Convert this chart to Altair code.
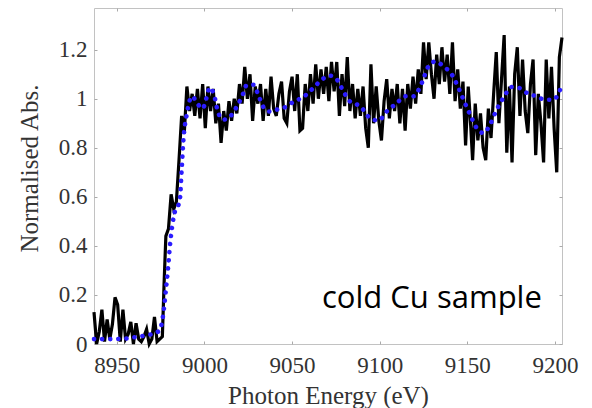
import altair as alt
import pandas as pd

# ---- data ----
energy = [
    8937, 8938.5, 8940, 8941.5, 8943, 8944.5, 8946, 8947.5, 8949, 8950.5,
    8952, 8953.5, 8955, 8956.5, 8958, 8959.5, 8961, 8962.5, 8964, 8965.5,
    8967, 8968.5, 8970, 8971.5, 8973, 8974.5, 8976,
    8977, 8978, 8979.5, 8981, 8982.5, 8984, 8985.5, 8987, 8988.5, 8990,
    8991.5, 8993, 8994.5, 8996, 8997.5, 8999, 9000.5, 9002, 9003.5, 9005,
    9006.5, 9008, 9009.5, 9011, 9012.5, 9014, 9015.5, 9017, 9018.5, 9020,
    9021.5, 9023, 9024.5, 9026, 9027.5, 9029, 9030.5, 9032, 9033.5, 9035,
    9036.5, 9038, 9039.5, 9041, 9042.5, 9044, 9045.5, 9047, 9048.5, 9050,
    9051.5, 9053, 9054.5,
    9056, 9057.5, 9059, 9060.5, 9062, 9063.5, 9065, 9066.5, 9068, 9069.5,
    9071, 9072.5, 9074, 9075.5, 9077, 9078.5, 9080, 9081.5, 9083, 9084.5,
    9086, 9087.5, 9089, 9090.5, 9092, 9093.5, 9095, 9096.5, 9098, 9099.5,
    9101, 9102.5, 9104, 9105.5, 9107, 9108.5, 9110, 9111.5, 9113, 9114.5,
    9116, 9117.5, 9119, 9120.5, 9122, 9123.5, 9125, 9126.5, 9128, 9129.5,
    9131, 9132.5, 9134, 9135.5, 9137, 9138.5, 9140, 9141.5, 9143, 9144.5,
    9146, 9147.5, 9149, 9150.5, 9152, 9153, 9154.5, 9156, 9157.5, 9159,
    9160.5, 9162, 9163.5, 9165, 9166.5, 9168, 9169.5, 9171, 9172.5, 9174,
    9175.5, 9177, 9178.5, 9180, 9181.5, 9183, 9184.5, 9186, 9187.5, 9189,
    9190.5, 9192, 9193.5, 9195, 9196.5, 9198, 9199.5, 9201, 9202.5, 9204,
]
absorbance = [
    0.13, 0.00, 0.05, 0.14, 0.01, 0.10, 0.02, 0.08, 0.19, 0.16,
    0.01, 0.14, 0.02, 0.04, 0.09, 0.00, 0.085, 0.02, 0.01, 0.03,
    0.06, 0.00, 0.02, 0.11, 0.01, 0.02, 0.03,
    0.25, 0.44, 0.47, 0.61, 0.55, 0.58, 0.75, 0.93, 0.86, 1.05,
    0.95, 1.02, 0.93, 1.04, 0.92, 1.06, 0.88, 1.05, 0.95, 1.04,
    0.90, 0.98, 0.82, 0.95, 0.87, 0.99, 0.91, 1.00, 0.94, 1.06,
    0.98, 1.13, 1.00, 1.10, 0.91, 1.05, 0.98, 1.06, 0.91, 1.04,
    0.93, 1.09, 0.96, 0.93, 1.02, 1.07, 0.92, 0.90, 1.03, 1.09,
    0.95, 1.10, 0.87,
    0.88, 1.06, 0.95, 1.10, 0.98, 1.14, 1.00, 1.12, 1.02, 1.13,
    0.99, 1.15, 1.03, 1.15, 0.93, 1.10, 0.97, 1.17, 0.95, 1.06,
    0.92, 1.04, 0.93, 1.05, 0.88, 0.80, 1.14, 0.90, 1.05, 0.91,
    0.83, 0.99, 1.08, 0.92, 1.04, 0.95, 1.06, 0.90, 1.04, 0.87,
    1.06, 0.96, 1.09, 0.98, 1.12, 1.02, 1.23, 1.08, 1.23, 1.10,
    1.00, 1.18, 1.06, 1.21, 1.07, 1.18, 1.02, 1.23, 0.99, 1.12,
    0.96, 1.07, 0.81, 1.05, 0.88, 0.75, 0.98, 0.83, 0.94, 0.80,
    0.75, 0.96, 0.84, 1.02, 1.19, 0.90, 1.08, 1.26, 0.78, 1.05,
    0.74, 1.10, 1.21, 0.93, 1.16, 0.95, 0.86, 1.06, 1.16, 0.77,
    1.02, 0.90, 0.74, 1.16, 0.92, 1.13, 0.88, 0.70, 1.17, 1.25,
]
fit_energy = [
    8937, 8945, 8955, 8962, 8968, 8972, 8974.5, 8976, 8977, 8978,
    8979, 8980.6, 8982.5, 8986, 8987, 8988, 8990, 8993, 8996, 8999,
    9001, 9003, 9005.3, 9008, 9011, 9015, 9018.6, 9021.5, 9024.3, 9028,
    9031, 9034, 9037, 9041, 9047, 9051, 9056, 9062, 9067, 9071.7,
    9075.6, 9079.3, 9083, 9089, 9094.5, 9099.3, 9104, 9109.7, 9114.5, 9119.2,
    9124, 9127.8, 9131.7, 9136.4, 9141.2, 9145, 9147.8, 9151.6, 9155.4, 9159.1,
    9162.9, 9166.7, 9170.5, 9175.3, 9180, 9184.8, 9189.5, 9194.2, 9199, 9203.7,
]
fit_absorbance = [
    0.02, 0.02, 0.022, 0.03, 0.037, 0.045, 0.057, 0.098, 0.15, 0.22,
    0.29, 0.42, 0.52, 0.59, 0.71, 0.83, 0.94, 1.01, 0.98, 0.96,
    1.00, 1.045, 1.02, 0.94, 0.915, 0.93, 0.97, 1.01, 1.057, 1.057,
    1.01, 0.962, 0.948, 0.955, 0.969, 0.989, 1.005, 1.043, 1.078, 1.094,
    1.078, 1.03, 0.989, 0.969, 0.921, 0.911, 0.948, 0.982, 1.01, 1.01,
    1.064, 1.132, 1.152, 1.132, 1.098, 1.043, 0.996, 0.935, 0.88, 0.86,
    0.894, 0.955, 1.003, 1.048, 1.043, 1.02, 1.01, 0.996, 0.996, 1.05,
]
x_ticks = [8950, 9000, 9050, 9100, 9150, 9200]
y_ticks = [0, 0.2, 0.4, 0.6, 0.8, 1, 1.2]
x_domain = [8937, 9204]
y_domain = [0, 1.37]
annotation = ["cold Cu sample"]

meas = pd.DataFrame({"E": energy, "A": absorbance})
fit = pd.DataFrame({"E": fit_energy, "A": fit_absorbance})
note = pd.DataFrame({"label": annotation})

SERIF = "Liberation Serif"
GRAY = "#c2c2c2"
TEXT = "#333333"

xscale = alt.Scale(domain=x_domain, nice=False, zero=False)
yscale = alt.Scale(domain=y_domain, nice=False, zero=False)

common = dict(tickSize=3, tickColor="#aaaaaa", tickWidth=1, domain=False, grid=False, offset=-3)

x_bottom = alt.Axis(orient="bottom", values=x_ticks, labelExpr="'' + datum.value",
                    labelFont=SERIF, labelFontSize=23, labelColor=TEXT, labelPadding=10,
                    title="Photon Energy (eV)", titleFont=SERIF, titleFontSize=25,
                    titleFontWeight="normal", titleColor=TEXT, titleY=42,
                    titleBaseline="top", **common)
y_left = alt.Axis(orient="left", values=y_ticks, labelExpr="'' + datum.value",
                  labelFont=SERIF, labelFontSize=23, labelColor=TEXT, labelPadding=7,
                  title="Normalised Abs.", titleFont=SERIF, titleFontSize=25,
                  titleFontWeight="normal", titleColor=TEXT, titleX=-80, titleY=160,
                  titleBaseline="top", titleAlign="center", **common)
x_top = alt.Axis(orient="top", values=x_ticks, labels=False, title=None, **common)
y_right = alt.Axis(orient="right", values=y_ticks, labels=False, title=None, **common)

measured = alt.Chart(meas).mark_line(color="black", strokeWidth=3.2, strokeJoin="miter").encode(
    x=alt.X("E:Q", scale=xscale, axis=x_bottom),
    y=alt.Y("A:Q", scale=yscale, axis=y_left),
)

fitted = alt.Chart(fit).mark_line(
    color="#2b1cff", strokeWidth=4.6, strokeDash=[0.1, 8], strokeCap="round",
    interpolate="monotone",
).encode(
    x=alt.X("E:Q", scale=xscale, axis=x_top),
    y=alt.Y("A:Q", scale=yscale, axis=y_right),
)

label = alt.Chart(note).mark_text(
    font="Open Sans", fontSize=31, align="left", baseline="alphabetic", color="black",
).encode(
    x=alt.value(228), y=alt.value(300), text="label:N",
)

chart = (
    alt.layer(measured, fitted, label)
    .resolve_axis(x="independent", y="independent")
    .properties(
        width=468, height=336,
        autosize=alt.AutoSizeParams(type="none"),
        padding={"left": 94, "top": 8, "right": 30, "bottom": 64},
        background="white",
    )
    .configure_view(stroke=GRAY, strokeWidth=1)
)

chart.save("out.html", embed_options={"renderer": "svg", "actions": False})
